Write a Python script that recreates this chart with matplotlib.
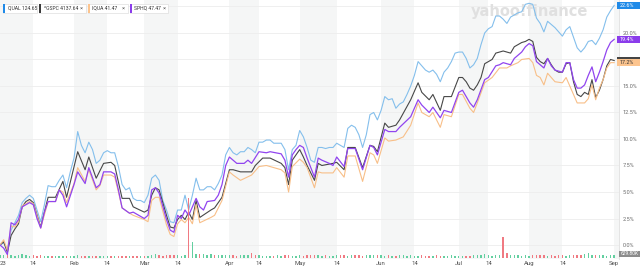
import matplotlib
matplotlib.use("Agg")
import matplotlib.pyplot as plt
from matplotlib.patches import Rectangle
from matplotlib.transforms import blended_transform_factory

plt.rcParams['font.family'] = ['Roboto', 'DejaVu Sans']

# ---------------- data (percent change since 3 Jan 2023, x = trading-day index) ----------------
qual = [0.0, 0.2, -0.5, 1.4, 2.1, 2.8, 4.0, 4.4, 4.7, 4.4,
        3.3, 2.2, 3.8, 5.6, 5.5, 5.5, 6.1, 6.6, 5.4, 6.9,
        8.2, 10.7, 9.4, 8.7, 9.7, 9.0, 7.7, 8.0, 8.7, 8.9,
        8.7, 8.7, 7.4, 5.7, 5.2, 5.4, 4.4, 4.2, 4.2, 4.0,
        4.7, 6.3, 6.6, 6.1, 4.2, 3.3, 2.2, 2.1, 3.3, 3.3,
        4.7, 3.3, 4.7, 6.3, 5.2, 5.2, 5.5, 5.5, 5.2, 5.8,
        6.6, 8.5, 9.2, 8.7, 8.5, 8.8, 8.8, 9.2, 9.0, 8.7,
        9.7, 9.7, 9.9, 9.9, 9.6, 9.6, 9.6, 9.0, 7.1, 9.0,
        9.4, 10.8, 10.2, 9.2, 8.0, 7.8, 9.2, 9.2, 9.1, 9.2,
        9.2, 9.6, 9.4, 9.2, 11.0, 11.3, 11.1, 10.4, 9.2, 10.4,
        12.3, 12.5, 11.8, 12.7, 14.0, 13.7, 13.8, 12.9, 13.3, 13.5,
        14.2, 15.0, 16.0, 17.3, 16.9, 16.5, 16.3, 16.5, 16.1, 15.4,
        16.3, 16.7, 17.3, 18.1, 18.2, 18.2, 17.6, 16.7, 17.0, 17.6,
        18.9, 20.0, 20.4, 20.6, 21.6, 21.6, 21.3, 20.9, 21.5, 21.7,
        21.9, 22.0, 22.7, 22.8, 22.7, 21.4, 20.9, 20.1, 21.1, 20.8,
        20.5, 20.1, 19.7, 20.3, 20.6, 19.6, 18.6, 18.2, 18.6, 19.2,
        19.3, 18.9, 19.5, 20.3, 21.5, 22.1, 22.6]
qual_days = list(range(len(qual)))

gspc_days = [0, 1, 2, 3, 4, 5, 6, 7, 8, 9, 11, 13, 15, 17, 18, 21, 23, 24, 26, 28,
             30, 31, 33, 35, 36, 39, 40, 41, 42, 43, 45, 46, 47, 48, 49, 50, 51, 52, 53, 54,
             57, 58, 60, 62, 63, 65, 68, 69, 71, 73, 76, 77, 78, 79, 81, 82, 83, 85, 86, 87,
             90, 91, 93, 94, 96, 98, 100, 101, 102, 104, 105, 107, 108, 111, 113, 114, 116, 117, 119, 120,
             122, 124, 125, 126, 127, 128, 129, 130, 131, 132, 133, 134, 135, 136, 137, 138, 139, 140, 141, 142,
             143, 144, 145, 146, 147, 148, 149, 150, 151, 152, 153, 154, 155, 156, 157, 158, 159, 160, 161, 162,
             163, 164, 165, 166]
gspc = [0.0, 0.3, -0.7, 0.9, 1.5, 2.0, 3.6, 4.1, 4.3, 4.0, 1.7, 4.5, 4.5, 6.0, 4.5, 8.8, 7.1, 8.3, 6.3, 7.7,
        7.8, 7.5, 4.4, 4.4, 3.6, 3.1, 3.3, 4.7, 5.4, 5.2, 2.8, 1.7, 1.6, 2.4, 2.8, 2.4, 3.1, 2.4, 4.2, 2.6,
        3.3, 3.5, 4.5, 7.1, 7.1, 6.9, 6.9, 7.5, 8.2, 8.2, 7.7, 7.3, 5.7, 8.0, 9.0, 8.3, 7.5, 6.1, 7.7, 7.5,
        7.7, 7.8, 7.1, 9.2, 9.2, 7.3, 9.4, 9.3, 8.8, 11.5, 11.1, 11.3, 11.8, 13.7, 15.3, 14.4, 13.7, 14.2, 12.7, 14.0,
        14.0, 15.8, 15.8, 15.4, 14.8, 14.6, 15.1, 15.8, 17.1, 17.3, 17.5, 18.1, 18.2, 18.3, 18.2, 18.1, 18.7, 18.9, 19.1, 19.2,
        19.4, 19.2, 17.7, 17.3, 17.1, 17.6, 17.0, 16.5, 16.3, 16.3, 17.1, 17.2, 15.4, 14.2, 14.0, 14.4, 14.2, 15.6, 13.9, 14.6,
        15.6, 16.9, 17.5, 17.4]

sphq_days = [0, 1, 2, 3, 4, 5, 6, 7, 8, 9, 10, 11, 12, 13, 15, 16, 17, 18, 20, 21,
             23, 24, 26, 27, 28, 30, 31, 32, 33, 35, 36, 38, 39, 40, 41, 42, 43, 45, 46, 47,
             48, 49, 50, 51, 53, 54, 55, 56, 58, 59, 60, 61, 62, 63, 64, 66, 67, 68, 70, 72,
             73, 76, 77, 78, 79, 80, 81, 82, 83, 85, 86, 87, 89, 90, 91, 93, 94, 96, 98, 100,
             101, 102, 104, 105, 107, 108, 111, 113, 114, 116, 117, 119, 120, 122, 124, 125, 127, 128, 129, 131,
             132, 134, 135, 136, 137, 138, 139, 140, 141, 142, 143, 144, 145, 146, 147, 148, 149, 150, 151, 152,
             153, 154, 155, 156, 157, 158, 159, 160, 161, 162, 163, 164, 165, 166]
sphq = [0.0, -0.3, -0.9, 2.1, 1.9, 2.4, 3.6, 3.8, 4.0, 3.8, 2.5, 1.6, 3.1, 4.1, 4.1, 5.2, 4.7, 3.6, 5.7, 6.9,
        5.8, 7.3, 5.4, 5.7, 6.9, 6.9, 6.7, 5.2, 3.5, 3.0, 3.1, 2.7, 2.5, 2.8, 5.2, 5.4, 4.9, 2.4, 1.4, 1.2,
        2.8, 2.5, 3.3, 2.8, 4.4, 3.6, 3.3, 4.1, 4.2, 4.7, 5.7, 7.5, 8.3, 8.0, 7.7, 7.7, 8.0, 7.7, 8.8, 8.7,
        8.8, 8.6, 8.0, 6.4, 8.5, 9.0, 9.4, 9.2, 8.2, 6.4, 8.2, 8.0, 7.7, 7.5, 8.3, 7.4, 9.1, 9.1, 7.1, 9.4,
        9.2, 8.5, 10.9, 10.7, 10.7, 11.1, 12.1, 13.7, 13.2, 12.5, 13.0, 12.0, 12.7, 12.5, 14.4, 14.6, 13.4, 13.0, 13.7, 15.6,
        15.8, 16.9, 17.0, 17.2, 17.1, 17.0, 17.6, 17.9, 18.2, 18.7, 19.0, 18.8, 17.3, 17.0, 16.7, 17.6, 16.9, 16.5, 16.4, 16.3,
        17.2, 17.2, 15.6, 14.8, 14.8, 15.1, 16.0, 16.8, 15.4, 16.3, 17.3, 18.4, 19.1, 19.4]

iqua_days = [0, 1, 2, 3, 4, 5, 6, 7, 8, 9, 11, 13, 15, 16, 17, 18, 20, 21, 23, 24,
             26, 27, 28, 30, 31, 32, 33, 35, 36, 39, 40, 41, 42, 43, 45, 46, 47, 48, 49, 50,
             51, 52, 53, 54, 57, 58, 60, 62, 63, 65, 68, 70, 72, 76, 77, 78, 79, 81, 82, 83,
             85, 86, 87, 90, 91, 93, 94, 96, 98, 100, 101, 102, 104, 105, 107, 109, 111, 113, 114, 116,
             117, 119, 120, 122, 124, 125, 127, 128, 129, 131, 133, 135, 137, 138, 140, 141, 143, 144, 145, 146,
             147, 148, 150, 152, 153, 155, 156, 158, 159, 160, 161, 162, 163, 164, 165, 166]
iqua = [0.0, 0.5, -0.5, 1.8, 1.7, 2.2, 3.7, 3.9, 4.1, 3.9, 1.6, 4.1, 4.1, 5.2, 5.0, 4.0, 5.8, 7.3, 6.0, 7.1,
        5.2, 5.6, 6.6, 6.6, 6.4, 5.0, 3.5, 3.0, 2.8, 2.4, 2.2, 4.2, 4.5, 4.5, 1.9, 1.0, 0.8, 2.0, 2.4, 2.1,
        2.6, 2.0, 3.8, 2.1, 2.6, 2.8, 4.2, 6.9, 6.6, 6.1, 6.6, 7.4, 7.5, 7.1, 6.8, 5.0, 7.4, 8.1, 7.8, 7.3,
        5.4, 6.9, 6.8, 6.8, 7.3, 6.4, 8.4, 8.4, 6.0, 8.7, 8.5, 7.7, 10.1, 9.8, 9.9, 10.2, 11.3, 13.4, 12.5, 12.1,
        12.5, 11.1, 12.3, 12.1, 14.2, 14.2, 12.9, 12.5, 13.4, 15.3, 15.8, 16.7, 16.7, 16.9, 17.2, 17.5, 17.6, 17.2, 16.0, 15.8,
        15.1, 16.2, 15.4, 15.3, 15.8, 14.2, 13.4, 13.4, 13.8, 15.1, 13.7, 14.8, 15.6, 16.7, 17.2, 17.2]

# QUAL daily volume, thousands of shares
volume_k = [700, 600, 650, 600, 550, 800, 900, 700, 500, 600,
            550, 600, 500, 450, 500, 450, 500, 550, 500, 450,
            500, 600, 550, 500, 450, 500, 450, 500, 450, 500,
            450, 500, 550, 500, 450, 500, 550, 500, 450, 500,
            550, 600, 900, 650, 550, 600, 650, 700, 600, 550,
            700, 14000, 3700, 950, 900, 850, 700, 900, 600, 650,
            600, 700, 650, 600, 550, 650, 600, 700, 1200, 650,
            600, 550, 500, 550, 500, 600, 550, 600, 650, 550,
            500, 600, 550, 700, 600, 650, 600, 550, 600, 500,
            550, 600, 650, 600, 550, 650, 700, 600, 550, 600,
            700, 750, 650, 600, 550, 600, 500, 550, 600, 650,
            550, 600, 550, 500, 600, 550, 500, 550, 600, 500,
            550, 500, 600, 550, 500, 450, 500, 550, 600, 650,
            700, 850, 600, 550, 600, 650, 4900, 1150, 700, 600,
            650, 550, 600, 550, 600, 650, 700, 600, 550, 600,
            550, 650, 600, 550, 700, 650, 600, 750, 900, 1200,
            700, 650, 600, 700, 550, 600, 630]

tick_days = [0.8, 9, 20, 29, 39, 48, 62, 70, 81, 91, 103, 112, 124, 132, 143, 152, 166]
tick_labels = ['23', '14', 'Feb', '14', 'Mar', '14', 'Apr', '14', 'May', '14',
               'Jun', '14', 'Jul', '14', 'Aug', '14', 'Sep']
band_starts = [0, 20, 39, 62, 81, 103, 124, 143, 166]
band_ends = [9, 29, 48, 70, 91, 112, 132, 152, 168]
y_ticks = [0.0, 2.5, 5.0, 7.5, 10.0, 12.5, 15.0, 17.5, 20.0, 22.5]
# 17.5% and 22.5% labels sit behind the end-value boxes in the original
y_labels = ['0.0%', '2.5%', '5.0%', '7.5%', '10.0%', '12.5%', '15.0%', '', '20.0%', '']

names = ['QUAL', '^GSPC', 'IQUA', 'SPHQ']
prices = ['124.65', '4137.64', '41.47', '47.47']
end_vals = [22.6, 17.4, 17.2, 19.4]
end_texts = ['22.6%', '', '17.2%', '19.4%']
last_volume = '629.80K'

# ---------------- styling ----------------
c_qual, c_gspc, c_iqua, c_sphq = '#84bfec', '#474747', '#f8bf88', '#9145ef'
box_cols = ['#1f8ae8', '#454545', '#fcc48e', '#8b3ceb']
box_txt = ['white', 'white', '#333333', 'white']

fig = plt.figure(figsize=(6.4, 2.7), dpi=100)
ax = fig.add_axes([0, 11 / 270, 619 / 640, 259 / 270])

# volume bars on a twin axis (created first, then main ticks moved right)
ax2 = ax.twinx()
ax2.set_ylim(-233, 60430)
ax2.set_yticks([])
for sp in ax2.spines.values():
    sp.set_visible(False)

ax.set_xlim(0, 167.3)
ax.set_ylim(-1.32, 23.11)

for s, e in zip(band_starts, band_ends):
    ax.axvspan(s, e, color='#f5f6f6', lw=0, zorder=0)
for yt in y_ticks:
    ax.axhline(yt, color='#ededed', lw=0.6, zorder=0.5)

ax.text(0.855, 0.955, 'yahoo!finance', transform=ax.transAxes, ha='center', va='center',
        fontsize=10.5, fontweight='bold', color='#e0e0e0', family='DejaVu Sans', zorder=1)

ax.plot(qual_days, qual, color=c_qual, lw=0.8, zorder=3)
ax.plot(gspc_days, gspc, color=c_gspc, lw=0.8, zorder=3)
ax.plot(iqua_days, iqua, color=c_iqua, lw=0.8, zorder=3)
ax.plot(sphq_days, sphq, color=c_sphq, lw=0.9, zorder=3.5)

ax.set_xticks(tick_days)
ax.set_xticklabels(tick_labels)
ax.yaxis.tick_right()
ax.set_yticks(y_ticks)
ax.set_yticklabels(y_labels)
ax.tick_params(axis='x', length=0, pad=1.2, labelsize=4.3, labelcolor='#505050')
ax.tick_params(axis='y', length=0, pad=2.5, labelsize=4.0, labelcolor='#6a6a6a')
for side in ['top', 'left', 'bottom']:
    ax.spines[side].set_visible(False)
ax.spines['right'].set_color('#e4e4e4')
ax.spines['right'].set_linewidth(0.7)

vcols = []
for i in range(len(volume_k)):
    up = i == 0 or qual[i] >= qual[i - 1]
    vcols.append('#63cfa0' if up else '#f07a82')
ax2.bar(range(len(volume_k)), volume_k, width=0.38, color=vcols, lw=0)
ax2.set_xlim(0, 167.3)

# end-value label boxes
bt = blended_transform_factory(ax.transAxes, ax.transData)
order = [1, 2, 3, 0]
for i in order:
    h = 0.66
    ax2.add_patch(Rectangle((617 / 619, end_vals[i] - h / 2), 30 / 619, h, transform=bt,
                            fc=box_cols[i], ec='none', clip_on=False, zorder=5))
    if end_texts[i]:
        ax2.text(619.5 / 619, end_vals[i], end_texts[i], transform=bt, ha='left', va='center',
                 fontsize=3.9, color=box_txt[i], clip_on=False, zorder=6)

# volume label
fig.add_artist(Rectangle((619 / 640, 1 - 257 / 270), 21 / 640, 6.5 / 270, transform=fig.transFigure,
                         fc='#8c8c8c', ec='none'))
fig.text(620.5 / 640, 1 - 253.8 / 270, last_volume, fontsize=3.5, color='white', ha='left', va='center')

# legend chips
chip_x = [(3, 37), (39, 86), (88, 128), (130, 168)]
close_x = [None, 81.5, 123.5, 164]
chip_bar = ['#1f8ae8', '#3a3a3a', '#fcc48e', '#8b3ceb']
for k in range(4):
    x0, x1 = chip_x[k]
    y0, y1 = 3.5, 12.8
    fig.add_artist(Rectangle((x0 / 640, 1 - y1 / 270), (x1 - x0) / 640, (y1 - y0) / 270,
                             transform=fig.transFigure, fc='white', ec='#dedede', lw=0.5))
    fig.add_artist(Rectangle((x0 / 640, 1 - y1 / 270), 2 / 640, (y1 - y0) / 270,
                             transform=fig.transFigure, fc=chip_bar[k], ec='none'))
    fig.text((x0 + 4.5) / 640, 1 - 8.3 / 270, names[k] + ' ' + prices[k], fontsize=3.6,
             color='#333333', ha='left', va='center')
    if close_x[k]:
        fig.text(close_x[k] / 640, 1 - 8.3 / 270, '\u00d7', fontsize=4.2, color='#666666',
                 ha='center', va='center')

fig.savefig('out.png', dpi=100)
